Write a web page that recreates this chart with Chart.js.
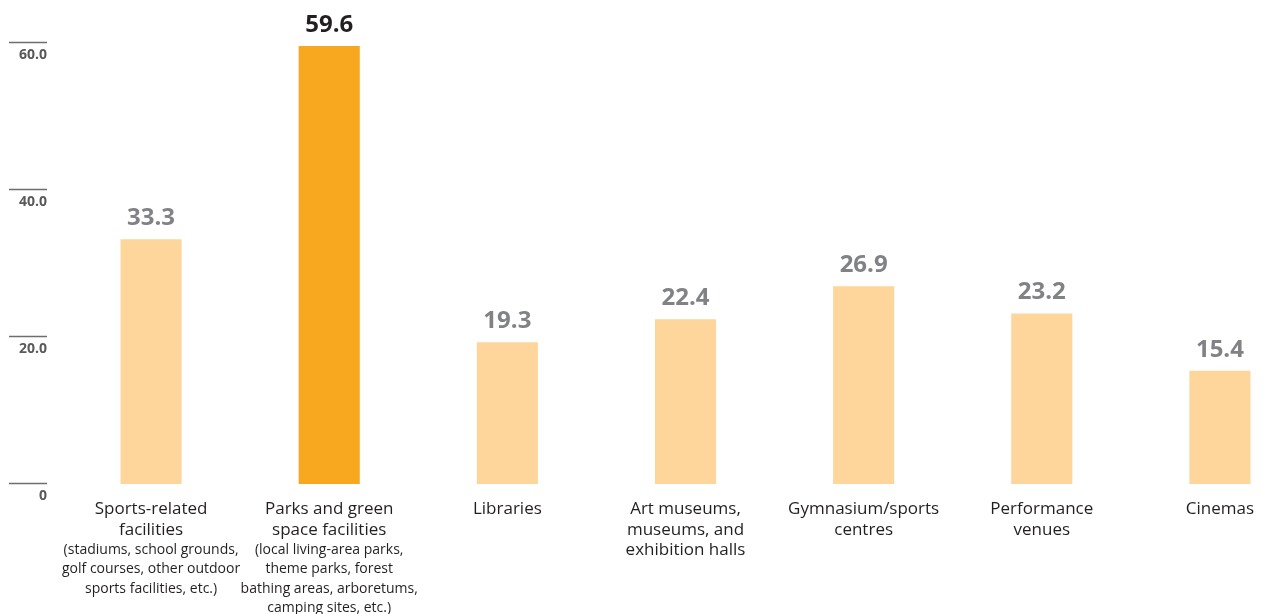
<!DOCTYPE html>
<html>
<head>
<meta charset="utf-8">
<script src="https://cdn.jsdelivr.net/npm/chart.js@4"></script>
<style>
  html, body { margin: 0; padding: 0; background: #fff; overflow: hidden; }
  #wrap { width: 1320px; height: 614px; }
</style>
</head>
<body>
<div id="wrap"><canvas id="myChart" width="1320" height="614"></canvas></div>
<script>
  const categories = [
    ['Sports-related', 'facilities'],
    ['Parks and green', 'space facilities'],
    ['Libraries'],
    ['Art museums,', 'museums, and', 'exhibition halls'],
    ['Gymnasium/sports', 'centres'],
    ['Performance', 'venues'],
    ['Cinemas']
  ];
  const notes = [
    ['(stadiums, school grounds,', 'golf courses, other outdoor', 'sports facilities, etc.)'],
    ['(local living-area parks,', 'theme parks, forest', 'bathing areas, arboretums,', 'camping sites, etc.)'],
    [], [], [], [], []
  ];
  const values = [33.3, 59.6, 19.3, 22.4, 26.9, 23.2, 15.4];
  const highlight = 1;
  const yTicks = [0, 20, 40, 60];
  const yTickLabels = ['0', '20.0', '40.0', '60.0'];

  const labelsPlugin = {
    id: 'labelsPlugin',
    afterDraw(chart) {
      const ctx = chart.ctx;
      const x = chart.scales.x, y = chart.scales.y;
      const meta = chart.getDatasetMeta(0);
      ctx.save();
      // y axis ticks
      yTicks.forEach((v, i) => {
        const py = Math.round(y.getPixelForValue(v)) - 0.5;
        ctx.strokeStyle = '#6d6e71';
        ctx.lineWidth = 1.3;
        ctx.beginPath();
        ctx.moveTo(9, py);
        ctx.lineTo(47, py);
        ctx.stroke();
        ctx.fillStyle = '#58595b';
        ctx.font = 'bold 14px "Open Sans"';
        ctx.textAlign = 'right';
        ctx.textBaseline = 'alphabetic';
        ctx.fillText(yTickLabels[i], 47, py + 16);
      });
      // value labels
      meta.data.forEach((bar, i) => {
        ctx.fillStyle = i === highlight ? '#231f20' : '#808285';
        ctx.font = 'bold 24px "Open Sans"';
        ctx.textAlign = 'center';
        ctx.textBaseline = 'alphabetic';
        ctx.fillText(values[i].toFixed(1), bar.x, bar.y - 14);
      });
      // category labels
      categories.forEach((lines, i) => {
        const cx = x.getPixelForValue(i);
        ctx.fillStyle = '#231f20';
        ctx.textAlign = 'center';
        ctx.font = '17px "Open Sans"';
        let by = 514;
        lines.forEach(t => { ctx.fillText(t, cx, by); by += 20.5; });
        ctx.font = '14px "Open Sans"';
        by -= 1;
        notes[i].forEach(t => { ctx.fillText(t, cx, by); by += 19.3; });
      });
      ctx.restore();
    }
  };

  new Chart(document.getElementById('myChart'), {
    type: 'bar',
    data: {
      labels: categories.map(c => c.join(' ')),
      datasets: [{
        data: values,
        backgroundColor: values.map((v, i) => i === highlight ? '#f7a81f' : '#fed69c'),
        borderWidth: 0,
        categoryPercentage: 1,
        barPercentage: 0.343
      }]
    },
    options: {
      responsive: false,
      animation: false,
      layout: { padding: { left: 62, right: 11, top: 43, bottom: 130 } },
      plugins: { legend: { display: false }, tooltip: { enabled: false } },
      scales: {
        x: { display: false },
        y: { display: false, min: 0, max: 60 }
      }
    },
    plugins: [labelsPlugin]
  });
</script>
</body>
</html>
